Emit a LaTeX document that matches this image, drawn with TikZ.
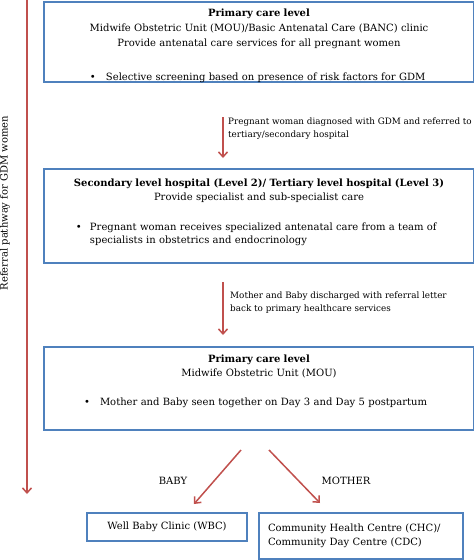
\documentclass[tikz,border=0pt]{standalone}
\usepackage{fontspec}
\setmainfont{DejaVu Serif}
\usetikzlibrary{arrows.meta}
\definecolor{boxblue}{RGB}{79,129,189}
\definecolor{arrowred}{RGB}{192,80,77}
\tikzstyle{level} = [rectangle, draw=boxblue, line width=2pt, anchor=north west,
                 minimum width=430pt, text width=430pt, inner sep=0pt, align=left,
                 font=\fontsize{10}{14}\selectfont]
\tikzstyle{clinic} = [rectangle, draw=boxblue, line width=2pt, anchor=north west,
                 inner sep=0pt, font=\fontsize{10}{14.5}\selectfont]
\tikzstyle{flow} = [draw=arrowred, line width=1.5pt,
                 -{Straight Barb[length=5pt,width=9pt]}]
\tikzstyle{note} = [anchor=north west, align=left, inner sep=0pt,
                 font=\fontsize{8.8}{12.5}\selectfont]

\begin{document}
\begin{tikzpicture}[x=1pt,y=-1pt]
\useasboundingbox (0,0) rectangle (474,560);

\node [level, minimum height=80pt] (primary) at (43,1) {%
  {\centering\fontsize{10}{15}\selectfont\rule{0pt}{14pt}\textbf{Primary care level}\\
  Midwife Obstetric Unit (MOU)/Basic Antenatal Care (BANC) clinic\\
  Provide antenatal care services for all pregnant women\par}
  \vspace{20pt}
  \hspace*{46pt}\makebox[16pt][l]{\textbullet}Selective screening based on presence of risk factors for GDM};

\node [level, minimum height=94pt] (hospital) at (43,168) {%
  {\centering\textbf{Secondary level hospital (Level 2)/ Tertiary level hospital (Level 3)}\\
  Provide specialist and sub-specialist care\par}
  \vspace{16pt}
  \hspace*{32pt}\makebox[14pt][l]{\textbullet}\parbox[t]{362pt}{\raggedright\fontsize{10}{13.3}\selectfont
  Pregnant woman receives specialized antenatal care from a team of specialists in obstetrics and endocrinology\rule[-9pt]{0pt}{9pt}}};

\node [level, minimum height=83pt] (postnatal) at (43,346) {%
  {\centering\textbf{Primary care level}\\
  Midwife Obstetric Unit (MOU)\par}
  \vspace{15pt}
  \hspace*{40pt}\makebox[16pt][l]{\textbullet}Mother and Baby seen together on Day 3 and Day 5 postpartum\rule[-16pt]{0pt}{16pt}};

\node [clinic, minimum width=160pt, minimum height=28pt] (wbc) at (86,512)
  {Well Baby Clinic (WBC)};
\node [clinic, minimum height=46pt, text width=186pt, inner xsep=9pt, align=left] (chc) at (258,512)
  {Community Health Centre (CHC)/\\Community Day Centre (CDC)};

%arrows down the pathway
\node [note] (diagnosed) at (228,118) {Pregnant woman diagnosed with GDM and referred to\\
  tertiary/secondary hospital};
\draw [flow] ([xshift=-36pt,yshift=-34pt]primary.south) -- ([xshift=-36pt,yshift=10pt]hospital.north);

\node [note] (discharged) at (230,292) {Mother and Baby discharged with referral letter\\
  back to primary healthcare services};
\draw [flow] ([xshift=-36pt,yshift=-18pt]hospital.south) -- ([xshift=-36pt,yshift=11pt]postnatal.north);

\node [font=\fontsize{10}{14}\selectfont] (baby) at (173,481) {BABY};
\node [font=\fontsize{10}{14}\selectfont] (mother) at (346,481) {MOTHER};
\draw [flow] ([xshift=-18pt,yshift=-19pt]postnatal.south) -- ([xshift=27pt,yshift=8pt]wbc.north);
\draw [flow] ([xshift=10pt,yshift=-19pt]postnatal.south) -- ([xshift=-41pt,yshift=9pt]chc.north);

%referral pathway
\coordinate (pathtop) at (27,0);
\coordinate (pathend) at (27,494);
\draw [flow] (pathtop) -- (pathend);
\node [rotate=90, font=\fontsize{10}{14}\selectfont] (pathway) at (5,203)
  {Referral pathway for GDM women};

\end{tikzpicture}
\end{document}
